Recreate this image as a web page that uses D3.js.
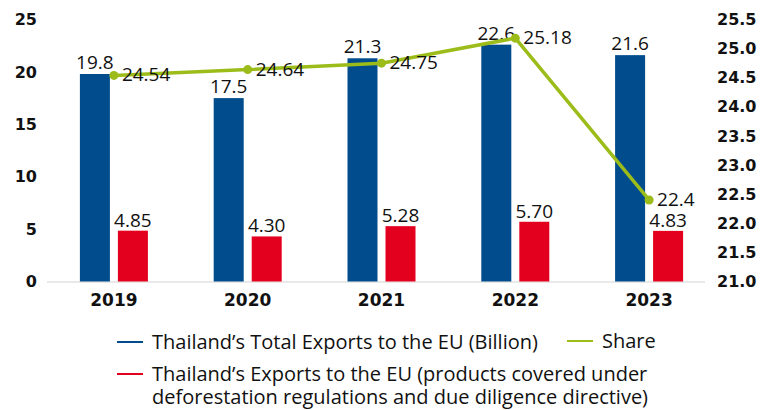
<!DOCTYPE html>
<html>
<head>
<meta charset="utf-8">
<script src="https://cdn.jsdelivr.net/npm/d3@7"></script>
<style>
  html, body { margin: 0; padding: 0; background: #fff; }
  svg { display: block; }
</style>
</head>
<body>
<svg id="chart" width="768" height="410"></svg>
<script>
// Thailand exports to the EU, 2019–2023
const years = ["2019", "2020", "2021", "2022", "2023"];
const totalExports = [19.8, 17.5, 21.3, 22.6, 21.6];      // billion
const coveredExports = [4.85, 4.30, 5.28, 5.70, 4.83];     // billion, deforestation-regulated products
const shareValues = [24.54, 24.64, 24.75, 25.18, 22.4];    // percent
const shareLabels = ["24.54", "24.64", "24.75", "25.18", "22.4"];
const coveredLabels = ["4.85", "4.30", "5.28", "5.70", "4.83"];
const leftTicks = [0, 5, 10, 15, 20, 25];
const rightTicks = [21.0, 21.5, 22.0, 22.5, 23.0, 23.5, 24.0, 24.5, 25.0, 25.5];

const BLUE = "#004c8c", RED = "#e3001f", GREEN = "#9cbc1a";
const tickFont = "'DejaVu Sans', sans-serif";
const labelFont = "'Open Sans', 'Liberation Sans', sans-serif";

const svg = d3.select("#chart");

const x = d3.scaleBand().domain(years).range([47, 716]).padding(0);
const sub = d3.scaleBand().domain(["total", "covered"]).range([-34, 34]).paddingInner(0.2105);
const y = d3.scaleLinear().domain([0, 25]).range([281.5, 19.5]);
const y2 = d3.scaleLinear().domain([21, 25.5]).range([281.5, 19.5]);
const cx = d => x(d) + x.bandwidth() / 2;

// left axis
const leftAxis = svg.append("g")
  .attr("transform", "translate(37,0)")
  .call(d3.axisLeft(y).tickValues(leftTicks).tickSize(0).tickPadding(0).tickFormat(d3.format("d")));
leftAxis.select(".domain").remove();
leftAxis.selectAll("text")
  .attr("font-family", tickFont).attr("font-weight", "bold").attr("font-size", 16).attr("fill", "#111");

// right axis
const rightAxis = svg.append("g")
  .attr("transform", "translate(717,0)")
  .call(d3.axisRight(y2).tickValues(rightTicks).tickSize(0).tickPadding(0).tickFormat(d3.format(".1f")));
rightAxis.select(".domain").remove();
rightAxis.selectAll("text")
  .attr("font-family", tickFont).attr("font-weight", "bold").attr("font-size", 16).attr("fill", "#111");

// category axis
const bottomAxis = svg.append("g")
  .attr("transform", `translate(0,${y(0)})`)
  .call(d3.axisBottom(x).tickSize(0).tickPadding(12));
bottomAxis.select(".domain").remove();
bottomAxis.selectAll("text")
  .attr("font-family", tickFont).attr("font-weight", "bold").attr("font-size", 17).attr("fill", "#111");

svg.append("line")
  .attr("x1", x.range()[0]).attr("x2", x.range()[1] - 11)
  .attr("y1", y(0) + 0.5).attr("y2", y(0) + 0.5)
  .attr("stroke", "#e2e2e2").attr("stroke-width", 1.5);

// bars
const barRows = years.map((yr, i) => ({ yr, total: totalExports[i], covered: coveredExports[i], cl: coveredLabels[i] }));

svg.append("g").selectAll("rect.total").data(barRows).join("rect")
  .attr("x", d => cx(d.yr) + sub("total")).attr("width", sub.bandwidth())
  .attr("y", d => y(d.total)).attr("height", d => y(0) - y(d.total))
  .attr("fill", BLUE);

svg.append("g").selectAll("rect.covered").data(barRows).join("rect")
  .attr("x", d => cx(d.yr) + sub("covered")).attr("width", sub.bandwidth())
  .attr("y", d => y(d.covered)).attr("height", d => y(0) - y(d.covered))
  .attr("fill", RED);

// bar value labels
const lblStyle = sel => sel.attr("font-family", labelFont).attr("font-size", 19)
  .attr("fill", "#111").attr("text-anchor", "middle");

svg.append("g").selectAll("text").data(barRows).join("text")
  .attr("x", d => cx(d.yr) + sub("total") + sub.bandwidth() / 2)
  .attr("y", d => y(d.total) - 5)
  .text(d => d.total.toFixed(1))
  .call(lblStyle);

svg.append("g").selectAll("text").data(barRows).join("text")
  .attr("x", d => cx(d.yr) + sub("covered") + sub.bandwidth() / 2)
  .attr("y", d => y(d.covered) - 4)
  .text(d => d.cl)
  .call(lblStyle);

// share line
const sharePts = years.map((yr, i) => ({ yr, v: shareValues[i], lbl: shareLabels[i] }));
svg.append("path").datum(sharePts)
  .attr("fill", "none").attr("stroke", GREEN).attr("stroke-width", 3.5)
  .attr("stroke-linejoin", "round")
  .attr("d", d3.line().x(d => cx(d.yr)).y(d => y2(d.v)));

svg.append("g").selectAll("circle").data(sharePts).join("circle")
  .attr("cx", d => cx(d.yr)).attr("cy", d => y2(d.v)).attr("r", 4.5)
  .attr("fill", GREEN);

svg.append("g").selectAll("text").data(sharePts).join("text")
  .attr("x", d => cx(d.yr) + 8)
  .attr("y", d => y2(d.v) + 6)
  .attr("font-family", labelFont).attr("font-size", 19).attr("fill", "#111")
  .text(d => d.lbl);

// legend
const legend = [
  { color: BLUE, x: 117, y: 342, lines: ["Thailand’s Total Exports to the EU (Billion)"] },
  { color: GREEN, x: 567, y: 341, lines: ["Share"] },
  { color: RED, x: 117, y: 374, lines: ["Thailand’s Exports to the EU (products covered under",
                                         "deforestation regulations and due diligence directive)"] }
];
const lg = svg.append("g").selectAll("g").data(legend).join("g")
  .attr("transform", d => `translate(${d.x},${d.y})`);
lg.append("line").attr("x1", 0).attr("x2", 26).attr("y1", 0).attr("y2", 0)
  .attr("stroke", d => d.color).attr("stroke-width", 2);
lg.append("text")
  .attr("font-family", labelFont).attr("font-size", 20).attr("fill", "#111")
  .selectAll("tspan").data(d => d.lines).join("tspan")
  .attr("x", 35).attr("y", (d, i) => 7 + i * 22.5)
  .text(d => d);
</script>
</body>
</html>
